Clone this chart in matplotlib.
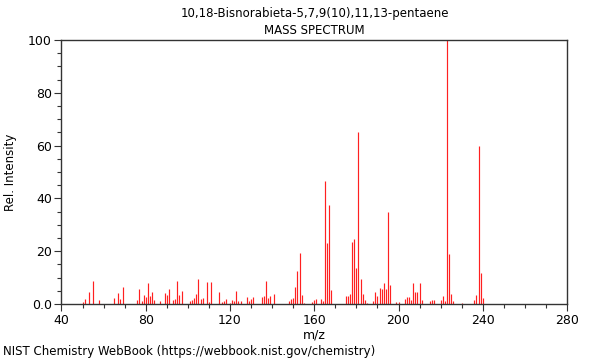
import matplotlib
matplotlib.use("Agg")
import matplotlib.pyplot as plt
from matplotlib.ticker import MultipleLocator, FixedLocator, FixedFormatter

title = "10,18-Bisnorabieta-5,7,9(10),11,13-pentaene"
subtitle = "MASS SPECTRUM"
footer = "NIST Chemistry WebBook (https://webbook.nist.gov/chemistry)"

mz = [50, 51, 53, 55, 58, 65, 67, 68, 69, 76, 77, 78, 79, 80, 81, 82, 83, 84,
      87, 89, 90, 91, 93, 94, 95, 96, 97, 101, 102, 103, 104, 105, 106, 107,
      109, 110, 111, 115, 116, 117, 118, 120, 121, 122, 123, 124, 125, 128,
      129, 130, 131, 135, 136, 137, 138, 139, 141, 148, 149, 150, 151, 152,
      153, 154, 155, 159, 160, 161, 163, 164, 165, 166, 167, 168, 175, 176,
      177, 178, 179, 180, 181, 182, 183, 184, 185, 188, 189, 190, 191, 192,
      193, 194, 195, 196, 199, 200, 203, 204, 205, 206, 207, 208, 209, 210,
      211, 215, 216, 217, 220, 221, 222, 223, 224, 225, 226, 230, 236, 237,
      238, 239, 240]
intensity = [0.8, 1.8, 4.5, 8.8, 1.5, 2.2, 4.0, 1.9, 6.6, 1.5, 5.5, 1.2, 3.4,
             2.5, 7.8, 3.0, 4.5, 1.5,
             1.1, 4.0, 3.4, 5.5, 1.5, 2.0, 8.8, 3.4, 5.0, 1.0, 1.5, 2.3, 3.7,
             9.6, 1.8, 2.3,
             8.2, 0.8, 8.5, 4.4, 0.8, 1.3, 2.0, 0.5, 1.5, 1.0, 4.8, 1.0, 1.0,
             2.5,
             1.0, 2.0, 2.5, 2.5, 3.0, 8.8, 2.2, 3.0, 3.8, 1.0, 2.0, 2.3, 6.6,
             12.5,
             19.5, 3.4, 0.5, 0.9, 1.5, 1.9, 1.9, 1.0, 46.6, 23.0, 37.5, 5.3,
             3.0, 3.0,
             3.8, 23.6, 24.6, 13.7, 65.0, 9.5, 3.8, 1.5, 0.5, 1.0, 4.4, 3.2,
             6.0, 5.6,
             7.8, 5.5, 34.7, 7.2, 0.8, 0.8, 1.9, 2.5, 2.5, 1.5, 7.8, 4.4, 4.7,
             8.0,
             1.5, 1.0, 1.5, 1.5, 1.5, 3.0, 1.2, 100.0, 19.0, 3.7, 1.2, 0.5,
             1.5, 3.4,
             59.8, 11.9, 2.4]

x_ticks = [40, 80, 120, 160, 200, 240, 280]
y_ticks = [0, 20, 40, 60, 80, 100]
y_tick_labels = ["0.0", "20", "40", "60", "80", "100"]

fig = plt.figure(figsize=(6, 3.6), dpi=100)
ax = fig.add_axes([61.5 / 600, 1 - 304 / 360, (567 - 61.5) / 600, (304 - 40) / 360])

ax.vlines(mz, 0, intensity, colors="#ff2020", linewidth=0.85)

ax.set_xlim(40, 280)
ax.set_ylim(0, 100)
ax.xaxis.set_major_locator(FixedLocator(x_ticks))
ax.xaxis.set_minor_locator(MultipleLocator(10))
ax.yaxis.set_major_locator(FixedLocator(y_ticks))
ax.yaxis.set_major_formatter(FixedFormatter(y_tick_labels))
ax.yaxis.set_minor_locator(MultipleLocator(5))

edge = "#333333"
for s in ax.spines.values():
    s.set_color(edge)
    s.set_linewidth(1.0)
ax.tick_params(which="major", length=5, width=0.8, color=edge, labelsize=9,
               direction="out", pad=2)
ax.tick_params(which="minor", length=3, width=0.8, color=edge, direction="out")

ax.set_xlabel("m/z", fontsize=9, labelpad=1)
ax.set_ylabel("Rel. Intensity", fontsize=8.5, labelpad=8)

fig.text(0.5 * (62 + 567) / 600, 1 - 13 / 360, title, ha="center", va="center", fontsize=8.5)
fig.text(0.5 * (62 + 567) / 600, 1 - 30 / 360, subtitle, ha="center", va="center", fontsize=8.5)
fig.text(3 / 600, 1 - 352 / 360, footer, ha="left", va="center", fontsize=8.5)

fig.savefig("out.png", dpi=100)
